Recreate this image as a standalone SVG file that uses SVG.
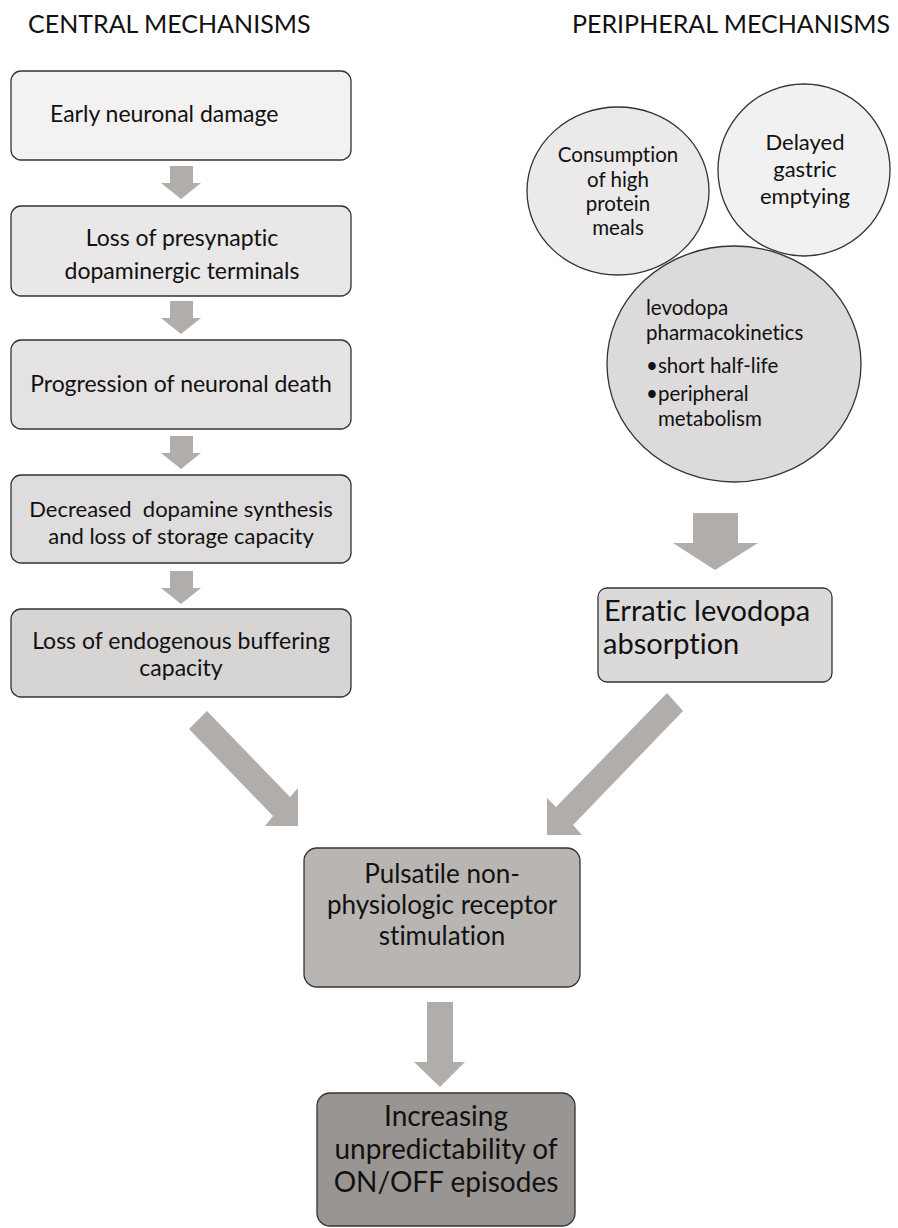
<svg xmlns="http://www.w3.org/2000/svg" width="898" height="1228" viewBox="0 0 898 1228">
<style>
text{font-family:Lato,"Liberation Sans",sans-serif;fill:#111;font-variant-ligatures:none;}
.t{font-size:25px;}
.b{stroke:#333;stroke-width:1.3;}
.c{font-size:20.5px;}
.m{font-size:23px;text-anchor:middle;}
.d{font-size:22px;text-anchor:middle;}
.l{font-size:26px;text-anchor:middle;}
.arr{fill:#b0adab;}
</style>
<rect width="898" height="1228" fill="#fff"/>
<text class="t" x="28" y="33">CENTRAL MECHANISMS</text>
<text class="t" x="572" y="33">PERIPHERAL MECHANISMS</text>
<g id="n1"><rect class="b" x="11" y="71" width="340" height="89" rx="10" fill="#f3f1f1"/><text class="m" x="50" y="122" style="text-anchor:start">Early neuronal damage</text></g>
<g id="n2"><rect class="b" x="11" y="206" width="340" height="90" rx="10" fill="#e9e7e7"/><text class="m" x="182" y="246">Loss of presynaptic</text><text class="m" x="182" y="279">dopaminergic terminals</text></g>
<g id="n3"><rect class="b" x="11" y="340" width="340" height="89" rx="10" fill="#e4e2e2"/><text class="m" x="181" y="392">Progression of neuronal death</text></g>
<g id="n4"><rect class="b" x="11" y="475" width="340" height="88" rx="10" fill="#dedcdc"/><text class="m" x="181" y="517" xml:space="preserve" style="font-size:22px">Decreased  dopamine synthesis</text><text class="m" x="181" y="544" style="font-size:22px">and loss of storage capacity</text></g>
<g id="n5"><rect class="b" x="11" y="609" width="340" height="88" rx="10" fill="#d7d4d4"/><text class="m" x="181" y="649">Loss of endogenous buffering</text><text class="m" x="181" y="676">capacity</text></g>
<g id="c1"><ellipse class="b" cx="618" cy="191" rx="91" ry="84" fill="#ebe9e9"/><text class="c" x="618" y="162" text-anchor="middle">Consumption</text><text class="c" x="618" y="187" text-anchor="middle">of high</text><text class="c" x="618" y="211" text-anchor="middle">protein</text><text class="c" x="618" y="235" text-anchor="middle">meals</text></g>
<g id="c2"><ellipse class="b" cx="804" cy="170" rx="86" ry="86" fill="#f2f1f1"/><text class="d" x="805" y="150">Delayed</text><text class="d" x="805" y="177">gastric</text><text class="d" x="805" y="204">emptying</text></g>
<g id="c3"><ellipse class="b" cx="734" cy="364" rx="127" ry="118" fill="#dcdada"/><text class="c" x="646" y="315">levodopa</text><text class="c" x="646" y="340">pharmacokinetics</text><text class="c" x="646" y="373">•short half-life</text><text class="c" x="646" y="401">•peripheral</text><text class="c" x="658" y="426">metabolism</text></g>
<g id="n6"><rect class="b" x="598" y="588" width="234" height="94" rx="9" fill="#dcd9d9"/><text x="604" y="621" style="font-size:29px">Erratic levodopa</text><text x="603" y="654" style="font-size:29px">absorption</text></g>
<g id="n7"><rect class="b" x="304" y="848" width="276" height="139" rx="13" fill="#b9b5b3"/><text class="l" x="442" y="883">Pulsatile non-</text><text class="l" x="442" y="914">physiologic receptor</text><text class="l" x="442" y="945">stimulation</text></g>
<g id="n8"><rect class="b" x="317" y="1093" width="258" height="133" rx="13" fill="#999593"/><text class="l" x="446" y="1126" style="font-size:28px">Increasing</text><text class="l" x="446" y="1159" style="font-size:28px">unpredictability of</text><text class="l" x="446" y="1192" style="font-size:28px">ON/OFF episodes</text></g>
<g id="connectors">
<polygon class="arr" points="170,166 193,166 193,183 201,183 181,199 161,183 170,183"/>
<polygon class="arr" points="170,301 193,301 193,318 201,318 181,334 161,318 170,318"/>
<polygon class="arr" points="170,436 193,436 193,453 201,453 181,469 161,453 170,453"/>
<polygon class="arr" points="170,571 193,571 193,588 201,588 181,604 161,588 170,588"/>
<polygon class="arr" points="693,513 738,513 738,543 758,543 715,570 673,543 693,543"/>
<polygon class="arr" points="427,1002 453,1002 453,1062 465,1062 440,1087 414,1062 427,1062"/>
<polygon class="arr" points="207,711 290,797 298,788 298,826 265,826 273,816 189,729"/>
<polygon class="arr" points="667,693 683,711 573,825 582,835 547,835 547,798 556,807"/>
</g>
</svg>
